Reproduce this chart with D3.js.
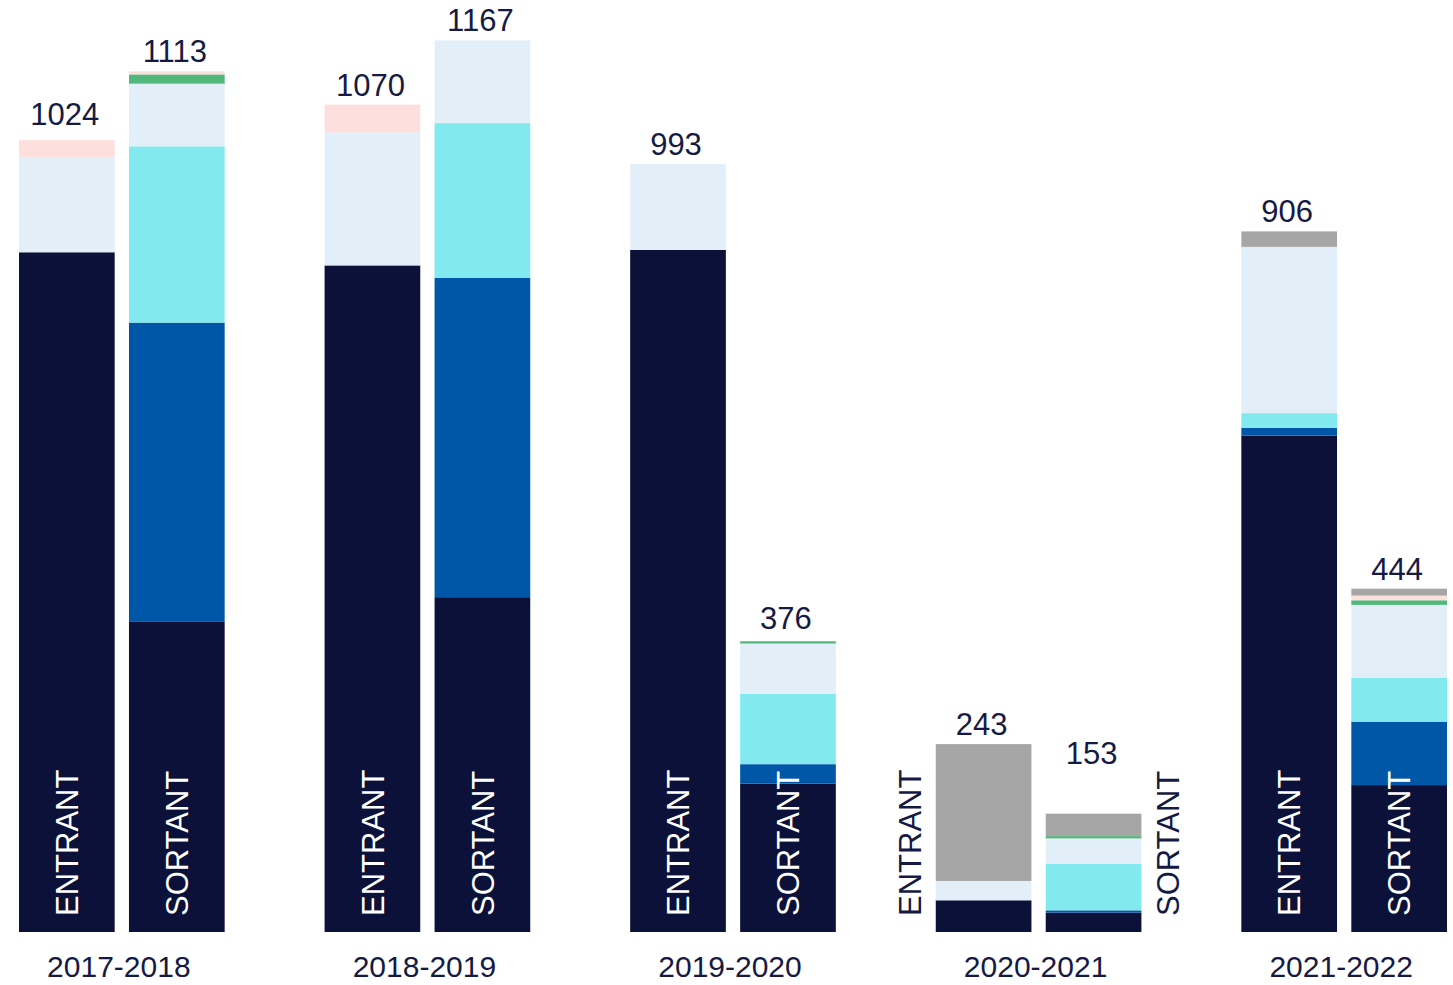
<!DOCTYPE html>
<html>
<head>
<meta charset="utf-8">
<script src="https://cdn.jsdelivr.net/npm/d3@7"></script>
<style>
  body { margin: 0; background: #fff; }
  text { font-family: "Liberation Sans", Arial, sans-serif; }
</style>
</head>
<body>
<div id="chart"></div>
<script>
/* DATA */
const years = ["2017-2018", "2018-2019", "2019-2020", "2020-2021", "2021-2022"];
const flows = ["ENTRANT", "SORTANT"];
// one value per bar: 17E, 17S, 18E, 18S, 19E, 19S, 20E, 20S, 21E, 21S
const serie1 = [879, 401, 862, 433, 882, 192, 41, 25, 642, 190];
const serie2 = [0, 387, 0, 413, 0, 25, 0, 3, 10, 82];
const serie3 = [0, 228, 0, 200, 0, 91, 0, 60, 19, 57];
const serie4 = [123, 81, 172, 107, 111, 65, 25, 33, 215, 94];
const serie5 = [0, 12, 0, 0, 0, 3, 0, 3, 0, 6];
const serie6 = [22, 4, 36, 0, 0, 0, 0, 0, 0, 6];
const serie7 = [0, 0, 0, 0, 0, 0, 177, 29, 20, 9];
const totals = [1024, 1113, 1070, 1167, 993, 376, 243, 153, 906, 444];

/* CONSTANTS */
const width = 1453, height = 985;
const keys = ["s1", "s2", "s3", "s4", "s5", "s6", "s7"];
const colors = ["#0b1139", "#0057a8", "#82eaee", "#e3eff8", "#52b77d", "#fde0de", "#a6a6a6"];
const textColor = "#151a44";
// a few labels sit a bit higher than the rest
const labelNudge = { "2017-2018|ENTRANT": 6, "2019-2020|SORTANT": 3, "2020-2021|SORTANT": 41 };

// build rows for the stack
const rows = [];
years.forEach((yr, i) => {
  flows.forEach((f, j) => {
    const k = i * 2 + j;
    rows.push({
      year: yr, flow: f, total: totals[k],
      s1: serie1[k], s2: serie2[k], s3: serie3[k], s4: serie4[k],
      s5: serie5[k], s6: serie6[k], s7: serie7[k]
    });
  });
});

const svg = d3.select("#chart").append("svg")
  .attr("width", width)
  .attr("height", height);

// + SCALES
const xScale = d3.scaleBand()
  .domain(years)
  .range([19, 1447])
  .paddingInner(0.327)
  .paddingOuter(0);

const xSub = d3.scaleBand()
  .domain(flows)
  .range([0, xScale.bandwidth()])
  .paddingInner(0.13);

const yScale = d3.scaleLinear()
  .domain([0, 1200])
  .range([932, 932 - 1200 * 0.7733]);

const color = d3.scaleOrdinal().domain(keys).range(colors);

const stacked = d3.stack().keys(keys)(rows);

// + BARS
const barX = d => xScale(d.data.year) + xSub(d.data.flow);

svg.append("g")
  .selectAll("g")
  .data(stacked)
  .join("g")
  .attr("fill", d => color(d.key))
  .selectAll("rect")
  .data(d => d.filter(p => p[1] - p[0] > 0))
  .join("rect")
  .attr("x", barX)
  .attr("width", xSub.bandwidth())
  .attr("y", d => yScale(d[1]))
  .attr("height", d => yScale(d[0]) - yScale(d[1]));

// + TOTAL LABELS
const stackTop = r => keys.reduce((s, k) => s + r[k], 0);

svg.append("g")
  .selectAll("text")
  .data(rows)
  .join("text")
  .attr("x", d => xScale(d.year) + xSub(d.flow) + xSub.bandwidth() / 2 - 2)
  .attr("y", d => yScale(stackTop(d)) - 9 - (labelNudge[d.year + "|" + d.flow] || 0))
  .attr("text-anchor", "middle")
  .attr("fill", textColor)
  .style("font-size", "31px")
  .text(d => d.total);

// + ENTRANT / SORTANT vertical labels
svg.append("g")
  .selectAll("text")
  .data(rows)
  .join("text")
  .attr("transform", d => {
    const left = xScale(d.year) + xSub(d.flow);
    const inside = stackTop(d) > 300;
    let cx = left + xSub.bandwidth() / 2;
    if (!inside) cx = d.flow === "ENTRANT" ? left - 26 : left + xSub.bandwidth() + 26;
    return `translate(${cx},916) rotate(-90)`;
  })
  .attr("dy", "0.36em")
  .attr("text-anchor", "start")
  .attr("fill", d => stackTop(d) > 300 ? "#ffffff" : textColor)
  .style("font-size", "31px")
  .text(d => d.flow);

// + YEAR LABELS
svg.append("g")
  .selectAll("text")
  .data(years)
  .join("text")
  .attr("x", d => xScale(d) + xScale.bandwidth() / 2 - 3)
  .attr("y", 977)
  .attr("text-anchor", "middle")
  .attr("fill", textColor)
  .style("font-size", "30px")
  .text(d => d);
</script>
</body>
</html>
